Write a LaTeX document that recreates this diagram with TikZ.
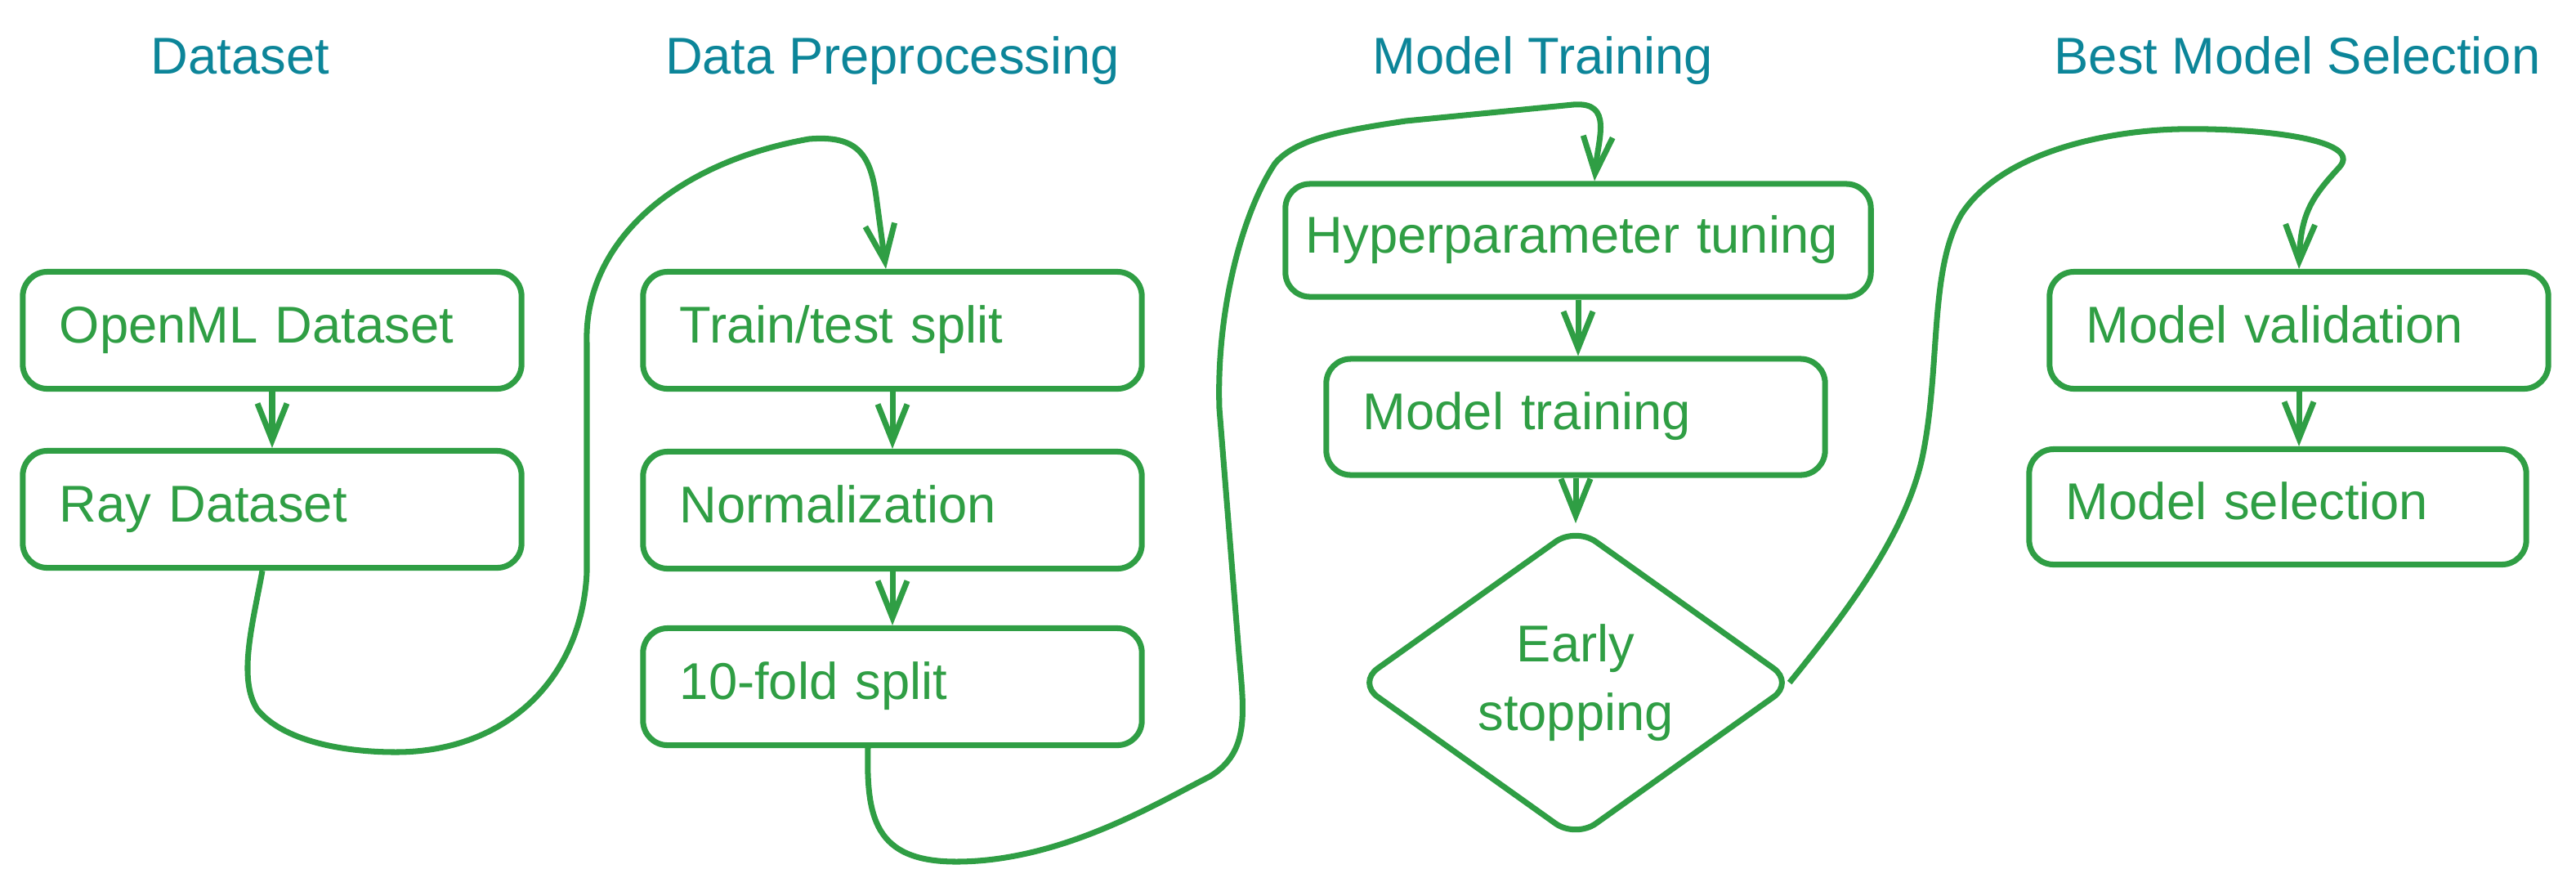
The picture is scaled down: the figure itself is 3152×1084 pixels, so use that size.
\documentclass[tikz,border=0pt]{standalone}
\usepackage{fontspec}
\setmainfont{Liberation Sans}
\usetikzlibrary{arrows.meta,shapes.geometric}

\definecolor{stagegreen}{HTML}{2F9E44}
\definecolor{headteal}{HTML}{0C8599}

\begin{document}
\begin{tikzpicture}[
  font=\fontsize{18pt}{24pt}\selectfont,
  heading/.style={text=headteal,anchor=base},
  stage/.style={draw=stagegreen,text=stagegreen,line width=2pt,rounded corners=0.3cm,
    minimum height=1.43cm,inner xsep=0.45cm,text width=5.2cm,align=left,
    text height=12.5pt,text depth=3.5pt},
  flow/.style={draw=stagegreen,line width=2pt,-{Straight Barb[length=0.45cm,width=0.36cm]}}
]

 \begin{scope}[x=0.01cm,y=-0.01cm]

  \useasboundingbox (0,0) rectangle (3152,1084);

  \node[heading] (h1) at (294,90) {Dataset};
  \node[heading] (h2) at (1092,90) {Data Preprocessing};
  \node[heading] (h3) at (1888,90) {Model Training};
  \node[heading] (h4) at (2811,90) {Best Model Selection};

    \node[stage] (openml) at (333,404) {OpenML Dataset};
    \node[stage] (ray) at (333,623) {Ray Dataset};

    \node[stage] (train) at (1092,404) {Train/test split};
    \node[stage] (norm) at (1092,624) {Normalization};
    \node[stage] (fold) at (1092,840) {10-fold split};

    \node[stage,text width=6.66cm,inner xsep=0.25cm,minimum height=1.38cm] (hyper) at (1931,294) {\mbox{Hyperparameter tuning}};
    \node[stage,minimum height=1.42cm] (mtrain) at (1928,510) {Model training};
    \node[diamond,draw=stagegreen,text=stagegreen,line width=2pt,rounded corners=0.3cm,
      minimum width=5.36cm,minimum height=3.4cm,align=center,inner sep=0pt] (stop) at (1928,835) {Early\\stopping};

    \node[stage] (valid) at (2813,404) {Model validation};
    \node[stage,text width=5.18cm,minimum height=1.41cm] (select) at (2787,620) {Model selection};

    \draw[flow] (openml) -- (ray);
    \draw[flow] (train) -- (norm);
    \draw[flow] (norm) -- (fold);
    \draw[flow] (hyper.south) -- (hyper.south |- mtrain.north);
    \draw[flow] (mtrain) -- (stop);
    \draw[flow] (valid.south) -- (valid.south |- select.north);

    % links between the stages
    \draw[flow] ([xshift=-0.12cm]ray.south) .. controls (310,760) and (290,830) .. (315,868)
      .. controls (350,910) and (430,920) .. (484,920)
      .. controls (620,920) and (712,830) .. (718,700) -- (718,420)
      .. controls (714,300) and (820,200) .. (990,170)
      .. controls (1050,165) and (1065,190) .. (1072,240) -- ([xshift=-0.08cm]train.north);
    \draw[flow] ([xshift=-0.3cm]fold.south) .. controls (1060,1000) and (1070,1054) .. (1170,1054)
      .. controls (1300,1054) and (1420,980) .. (1480,950)
      .. controls (1530,920) and (1522,870) .. (1516,800) -- (1492,500)
      .. controls (1488,380) and (1520,260) .. (1560,200)
      .. controls (1585,170) and (1640,160) .. (1720,148) -- (1925,128)
      .. controls (1975,124) and (1955,170) .. ([xshift=0.2cm]hyper.north);
    \draw[flow] ([xshift=-0.1cm]stop.east) .. controls (2250,760) and (2330,660) .. (2352,560)
      .. controls (2375,450) and (2360,330) .. (2400,262)
      .. controls (2450,185) and (2580,160) .. (2665,158)
      .. controls (2760,156) and (2895,170) .. (2862,205)
      .. controls (2830,240) and (2815,260) .. (valid.north);

 \end{scope}

\end{tikzpicture}
\end{document}
